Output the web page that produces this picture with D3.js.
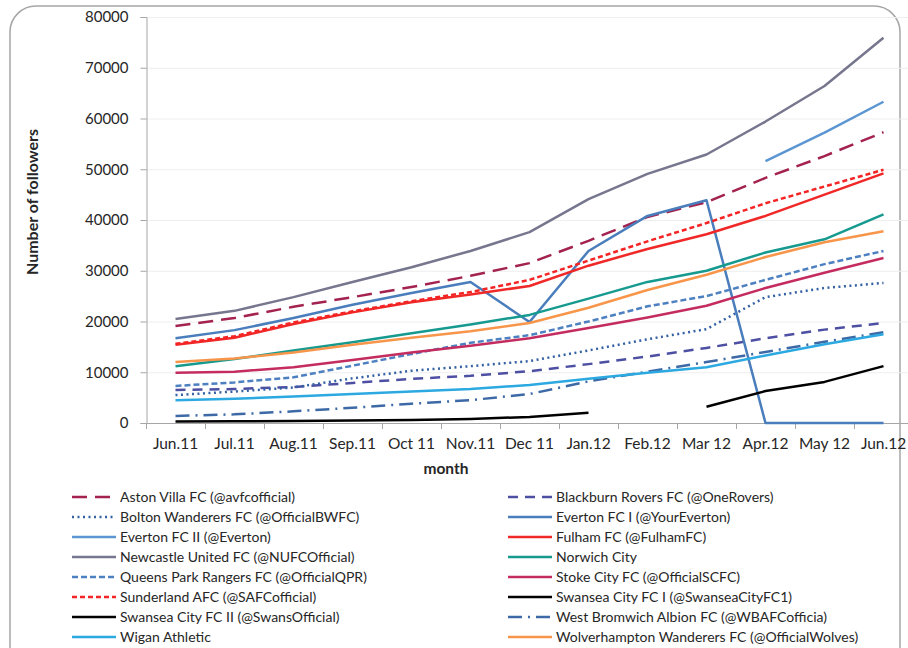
<!DOCTYPE html>
<html>
<head>
<meta charset="utf-8">
<script src="https://cdn.jsdelivr.net/npm/d3@7"></script>
<style>
  html, body { margin: 0; padding: 0; background: #fff; }
  svg { display: block; }
  text { font-family: Lato, "Open Sans", sans-serif; fill: #262626; }
</style>
</head>
<body>
<svg id="chart" width="908" height="648"></svg>
<script>
const months = ["Jun.11","Jul.11","Aug.11","Sep.11","Oct 11","Nov.11","Dec 11","Jan.12","Feb.12","Mar 12","Apr.12","May 12","Jun.12"];
const yTicks = [0,10000,20000,30000,40000,50000,60000,70000,80000];

const astonVilla   = [19100,20700,22900,24800,26800,29000,31500,35900,40600,43500,48300,52600,57300];
const blackburn    = [6500,6700,7100,7900,8700,9300,10200,11600,13100,14800,16700,18400,19700];
const bolton       = [5500,6200,7000,8800,10300,11200,12200,14300,16500,18500,24800,26600,27600];
const evertonI     = [16700,18300,20700,23300,25600,27800,19900,33900,40800,43900,0,0,0];
const evertonII    = [null,null,null,null,null,null,null,null,null,null,51600,57200,63300];
const fulham       = [15400,16800,19500,21800,23800,25300,27000,31000,34300,37200,40800,45000,49200];
const newcastle    = [20500,22100,24800,27800,30700,33900,37600,44100,49100,52900,59400,66400,75900];
const norwich      = [11200,12600,14300,15900,17700,19400,21300,24500,27800,30000,33600,36200,41100];
const qpr          = [7300,8000,9000,11300,13600,15800,17300,20000,23000,25000,28200,31300,33900];
const stoke        = [9900,10100,11000,12400,13900,15200,16700,18700,20800,23100,26600,29600,32500];
const sunderland   = [15600,17100,19800,22000,24000,25800,28200,32000,35800,39400,43300,46600,49900];
const swanseaI     = [300,350,400,500,600,800,1200,2000,null,null,null,null,null];
const swanseaII    = [null,null,null,null,null,null,null,null,null,3200,6300,8100,11200];
const wba          = [1400,1700,2300,3000,3800,4500,5700,8200,10100,12000,14000,16000,17900];
const wigan        = [4500,4800,5200,5700,6200,6700,7500,8700,9900,11000,13300,15500,17500];
const wolves       = [12000,12700,13900,15400,16800,18100,19700,22700,26200,29200,32700,35600,37800];

const series = [
  {name:"Aston Villa FC (@avfcofficial)", values:astonVilla, color:"#a3224f", dash:"15,8", col:0, row:0},
  {name:"Blackburn Rovers FC (@OneRovers)", values:blackburn, color:"#4d4fa3", dash:"10,7", col:1, row:0},
  {name:"Bolton Wanderers FC (@OfficialBWFC)", values:bolton, color:"#3460a4", dash:"2,3.5", col:0, row:1},
  {name:"Everton FC I (@YourEverton)", values:evertonI, color:"#4a7dbb", dash:null, col:1, row:1},
  {name:"Everton FC II (@Everton)", values:evertonII, color:"#5b96d3", dash:null, col:0, row:2},
  {name:"Fulham FC (@FulhamFC)", values:fulham, color:"#f02828", dash:null, col:1, row:2},
  {name:"Newcastle United FC (@NUFCOfficial)", values:newcastle, color:"#76768e", dash:null, col:0, row:3},
  {name:"Norwich City", values:norwich, color:"#169a8f", dash:null, col:1, row:3},
  {name:"Queens Park Rangers FC (@OfficialQPR)", values:qpr, color:"#4d80c0", dash:"6,3", col:0, row:4},
  {name:"Stoke City FC (@OfficialSCFC)", values:stoke, color:"#c42c60", dash:null, col:1, row:4},
  {name:"Sunderland AFC (@SAFCofficial)", values:sunderland, color:"#f52424", dash:"5,3", col:0, row:5},
  {name:"Swansea City FC I (@SwanseaCityFC1)", values:swanseaI, color:"#000000", dash:null, col:1, row:5},
  {name:"Swansea City FC II (@SwansOfficial)", values:swanseaII, color:"#000000", dash:null, col:0, row:6},
  {name:"West Bromwich Albion FC (@WBAFCofficia)", values:wba, color:"#3d6aa6", dash:"14,6,2,6", col:1, row:6},
  {name:"Wigan Athletic", values:wigan, color:"#2ca9e1", dash:null, col:0, row:7},
  {name:"Wolverhampton Wanderers FC (@OfficialWolves)", values:wolves, color:"#f7964a", dash:null, col:1, row:7}
];

const svg = d3.select("#chart");

// outer rounded border
svg.append("rect").attr("x",10).attr("y",6).attr("width",890).attr("height",700)
  .attr("rx",26).attr("ry",26).attr("fill","none").attr("stroke","#a6a6a6").attr("stroke-width",1.5);

const x = d3.scaleBand().domain(months).range([146, 146 + 13*59]).padding(0);
const y = d3.scaleLinear().domain([0,80000]).range([423,17]);

// gridlines
svg.append("g").selectAll("line").data(yTicks.slice(1)).join("line")
  .attr("x1",146).attr("x2",908).attr("y1",d=>y(d)+0.5).attr("y2",d=>y(d)+0.5)
  .attr("stroke","#eeeeee").attr("stroke-width",1);

// y axis
const yAxis = svg.append("g").attr("transform","translate(146.5,0)")
  .call(d3.axisLeft(y).tickValues(yTicks).tickSize(6).tickPadding(12).tickFormat(d3.format("d")));
yAxis.select(".domain").attr("stroke","#a6a6a6");
yAxis.selectAll(".tick line").attr("stroke","#a6a6a6");
yAxis.selectAll(".tick text").attr("font-size",15).attr("fill","#262626")
  .style("font-family","Lato, 'Open Sans', sans-serif");

// x axis
const xAxis = svg.append("g").attr("transform","translate(0,423.5)")
  .call(d3.axisBottom(x).tickSize(0).tickPadding(14));
xAxis.select(".domain").attr("stroke","#a6a6a6").attr("d","M146,0H920");
xAxis.selectAll(".tick text").attr("font-size",15.5).attr("fill","#262626")
  .style("font-family","Lato, 'Open Sans', sans-serif");
svg.append("g").selectAll("line").data(d3.range(14)).join("line")
  .attr("x1",i=>146.5 + i*x.step()).attr("x2",i=>146.5 + i*x.step())
  .attr("y1",423).attr("y2",429).attr("stroke","#a6a6a6");

// axis titles
svg.append("text").attr("x",446).attr("y",474).attr("text-anchor","middle")
  .attr("font-size",15.5).attr("font-weight","bold").text("month");
svg.append("text").attr("transform","translate(38,202) rotate(-90)").attr("text-anchor","middle")
  .attr("font-size",16).attr("font-weight","bold").text("Number of followers");

// lines
const line = d3.line()
  .defined(d => d.v !== null)
  .x(d => x(d.m) + x.bandwidth()/2)
  .y(d => y(d.v));

svg.append("g").selectAll("path").data(series).join("path")
  .attr("d", s => line(s.values.map((v,i)=>({m:months[i], v}))))
  .attr("fill","none")
  .attr("stroke", s => s.color)
  .attr("stroke-width", 2.5)
  .attr("stroke-dasharray", s => s.dash)
  .attr("stroke-linejoin","round");

// legend
const legend = svg.append("g");
const lx = [72, 508];
const items = legend.selectAll("g").data(series).join("g")
  .attr("transform", s => `translate(${lx[s.col]},${497 + s.row*20})`);
items.append("line").attr("x1",0).attr("x2",44).attr("y1",0).attr("y2",0)
  .attr("stroke", s => s.color).attr("stroke-width",2.5).attr("stroke-dasharray", s => s.dash);
items.append("text").attr("x",48).attr("y",5).attr("font-size",14).text(s => s.name);
</script>
</body>
</html>
